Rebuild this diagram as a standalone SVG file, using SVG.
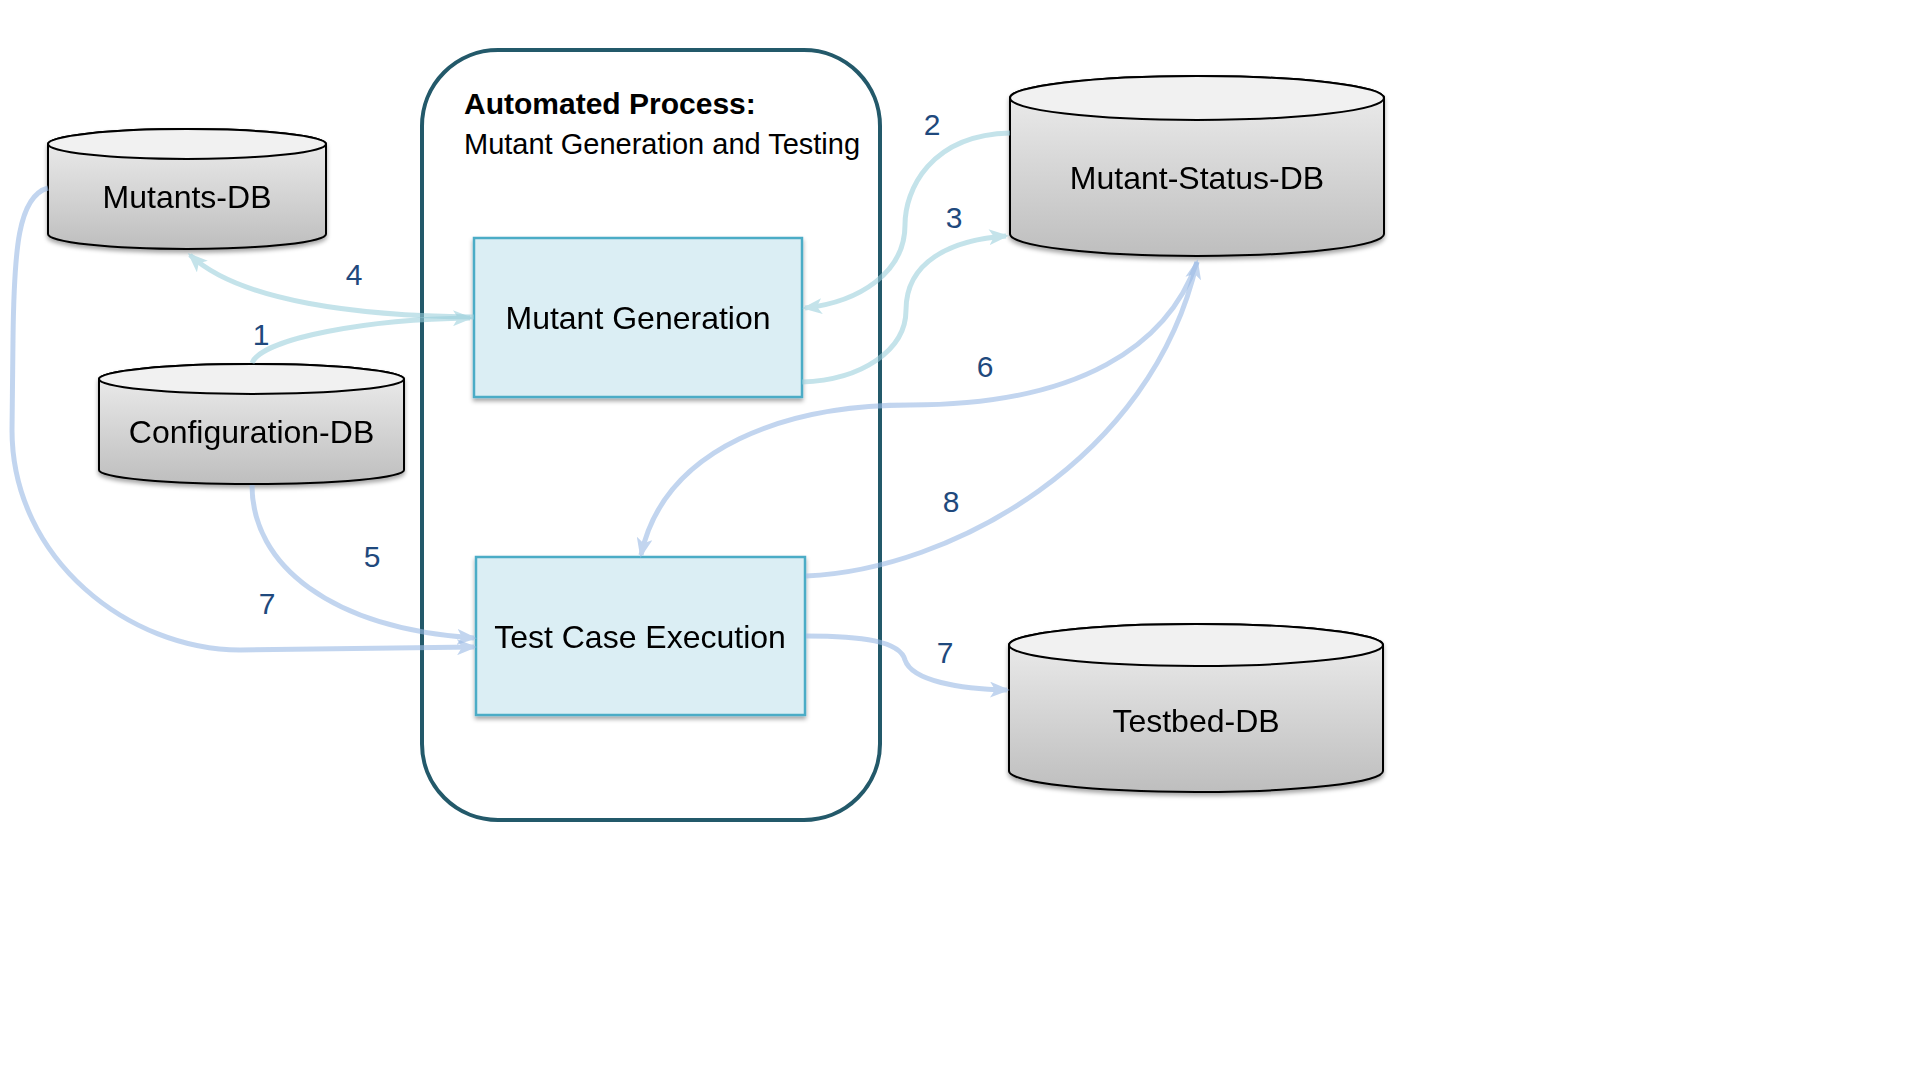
<svg xmlns="http://www.w3.org/2000/svg" width="1920" height="1080" viewBox="0 0 1920 1080">
<style>
  text { font-family: "Liberation Sans", Arial, sans-serif; }
  .node-label { font-size: 32px; fill: #000; text-anchor: middle; }
  .num { font-size: 30px; fill: #1F497D; text-anchor: middle; }
  .cyl-body { fill: url(#cylGrad); stroke: #000; stroke-width: 2; }
  .cyl-top { fill: #F1F1F1; stroke: #000; stroke-width: 2; }
  .box { fill: #DBEEF4; stroke: #4BACC6; stroke-width: 2.5; }
  .c-cyan path { fill: none; stroke: #9ACFDC; stroke-width: 5; }
  .c-blue path { fill: none; stroke: #9DBCE6; stroke-width: 5; }
  .c-cyan { opacity: 0.58; }
  .c-blue { opacity: 0.62; }
</style>
<defs>
  <linearGradient id="cylGrad" x1="0" y1="0" x2="0" y2="1">
    <stop offset="0" stop-color="#EFEFEF"/>
    <stop offset="1" stop-color="#BEBEBE"/>
  </linearGradient>
  <filter id="shadow" x="-10%" y="-10%" width="120%" height="130%">
    <feDropShadow dx="0" dy="3" stdDeviation="2" flood-color="#000" flood-opacity="0.35"/>
  </filter>
  <marker id="arrCyan" markerUnits="userSpaceOnUse" viewBox="0 0 20 16" refX="17" refY="8" markerWidth="20" markerHeight="16" orient="auto">
    <path d="M0,0 L20,8 L0,16 L5,8 z" fill="#9ACFDC"/>
  </marker>
  <marker id="arrBlue" markerUnits="userSpaceOnUse" viewBox="0 0 20 16" refX="17" refY="8" markerWidth="20" markerHeight="16" orient="auto">
    <path d="M0,0 L20,8 L0,16 L5,8 z" fill="#9DBCE6"/>
  </marker>
</defs>

<rect width="1920" height="1080" fill="#FFFFFF"/>

<g id="automated-process">
  <rect x="422" y="50" width="458" height="770" rx="76" ry="76" fill="none" stroke="#23596A" stroke-width="4"/>
  <text x="464" y="114" font-size="30" font-weight="bold">Automated Process:</text>
  <text x="464" y="154" font-size="29">Mutant Generation and Testing</text>
</g>

<g id="mutants-db" filter="url(#shadow)">
  <path class="cyl-body" d="M48,144 L48,234 A139,15 0 0 0 326,234 L326,144 A139,15 0 0 0 48,144 z"/>
  <ellipse class="cyl-top" cx="187" cy="144" rx="139" ry="15"/>
  <text class="node-label" x="187" y="208">Mutants-DB</text>
</g>

<g id="configuration-db" filter="url(#shadow)">
  <path class="cyl-body" d="M99,379 L99,470 A152.5,14 0 0 0 404,470 L404,379 A152.5,15 0 0 0 99,379 z"/>
  <ellipse class="cyl-top" cx="251.5" cy="379" rx="152.5" ry="15"/>
  <text class="node-label" x="251.5" y="443">Configuration-DB</text>
</g>

<g id="mutant-status-db" filter="url(#shadow)">
  <path class="cyl-body" d="M1010,98 L1010,234 A187,22 0 0 0 1384,234 L1384,98 A187,22 0 0 0 1010,98 z"/>
  <ellipse class="cyl-top" cx="1197" cy="98" rx="187" ry="22"/>
  <text class="node-label" x="1197" y="189">Mutant-Status-DB</text>
</g>

<g id="testbed-db" filter="url(#shadow)">
  <path class="cyl-body" d="M1009,645 L1009,771 A187,21 0 0 0 1383,771 L1383,645 A187,21 0 0 0 1009,645 z"/>
  <ellipse class="cyl-top" cx="1196" cy="645" rx="187" ry="21"/>
  <text class="node-label" x="1196" y="732">Testbed-DB</text>
</g>

<g id="mutant-generation" filter="url(#shadow)">
  <rect class="box" x="474" y="238" width="328" height="159"/>
  <text class="node-label" x="638" y="329">Mutant Generation</text>
</g>

<g id="test-case-execution" filter="url(#shadow)">
  <rect class="box" x="476" y="557" width="329" height="158"/>
  <text class="node-label" x="640" y="648">Test Case Execution</text>
</g>

<g id="connectors">
  <g class="c-cyan" id="conn-1"><path d="M252,363 C 262,338 370,319 470,318" marker-end="url(#arrCyan)"/></g>
  <g class="c-cyan" id="conn-4"><path d="M474,317 C 360,316 240,302 190,255" marker-end="url(#arrCyan)"/></g>
  <g class="c-cyan" id="conn-2"><path d="M1010,133 C 930,135 905,190 905,225 C 905,272 860,302 805,308" marker-end="url(#arrCyan)"/></g>
  <g class="c-cyan" id="conn-3"><path d="M802,382 C 862,380 906,350 906,310 C 906,262 950,240 1006,236" marker-end="url(#arrCyan)"/></g>
  <g class="c-blue" id="conn-6"><path d="M1197,262 C 1168,345 1080,405 910,405 C 790,405 665,445 641,555" marker-end="url(#arrBlue)"/></g>
  <g class="c-blue" id="conn-8"><path d="M806,576 C 950,570 1152,460 1197,262" marker-end="url(#arrBlue)"/></g>
  <g class="c-blue" id="conn-5"><path d="M252,485 C 252,565 330,628 474,638" marker-end="url(#arrBlue)"/></g>
  <g class="c-blue" id="conn-7a"><path d="M48,188 C 18,196 14,250 13,340 L 12,430 C 12,560 130,650 240,650 L 474,647" marker-end="url(#arrBlue)"/></g>
  <g class="c-blue" id="conn-7b"><path d="M806,636 C 862,636 900,641 905,660 C 912,681 960,689 1007,690" marker-end="url(#arrBlue)"/></g>
</g>

<g id="labels">
  <text class="num" x="932" y="135">2</text>
  <text class="num" x="954" y="228">3</text>
  <text class="num" x="354" y="285">4</text>
  <text class="num" x="261" y="345">1</text>
  <text class="num" x="985" y="377">6</text>
  <text class="num" x="951" y="512">8</text>
  <text class="num" x="945" y="663">7</text>
  <text class="num" x="372" y="567">5</text>
  <text class="num" x="267" y="614">7</text>
</g>
</svg>
